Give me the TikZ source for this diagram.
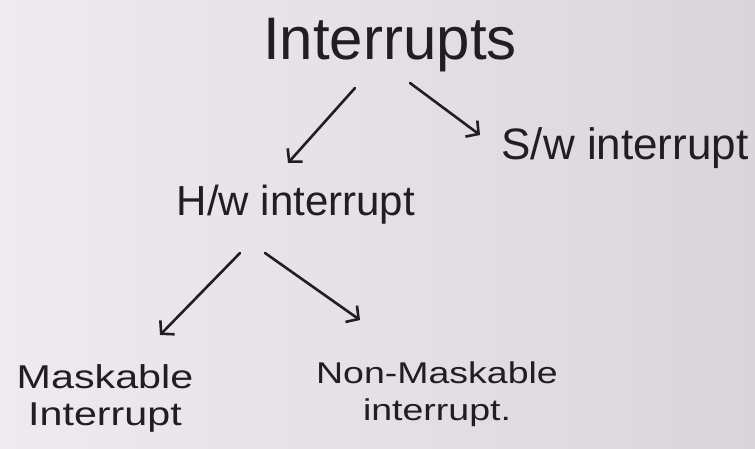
\documentclass[tikz,border=0pt]{standalone}
\usepackage{fontspec}
\setmainfont{Liberation Sans}
\newfontfamily\widehand[FakeStretch=1.25]{Liberation Sans}
\usetikzlibrary{arrows.meta}
\definecolor{ink}{RGB}{32,30,36}
\definecolor{paperL}{RGB}{238,235,238}
\definecolor{paperR}{RGB}{218,213,218}
\tikzset{
  hand/.style={text=ink, inner sep=0pt, align=center},
  arr/.style={draw=ink, line width=2.6pt, line cap=round,
    -{Straight Barb[length=9pt,width=20pt,line width=2.6pt]}},
}
\begin{document}
\begin{tikzpicture}[x=1pt,y=-1pt]
  % sheet of paper
  \shade[left color=paperL, right color=paperR] (0,0) rectangle (755,449);
  \useasboundingbox (0,0) rectangle (755,449);

  % labels
  \node[hand, font=\fontsize{60}{60}\selectfont] (int) at (390,45) {Interrupts};
  \node[hand, font=\fontsize{42}{42}\selectfont] (hw) at (296,205) {H/w interrupt};
  \node[hand, font=\fontsize{44}{44}\selectfont] (sw) at (625,148) {S/w interrupt};
  \node[hand, font=\widehand\fontsize{33}{37}\selectfont] (mask) at (105,398) {Maskable\\Interrupt};
  \node[hand, font=\widehand\fontsize{30}{37}\selectfont] (nonmask) at (437,394) {Non-Maskable\\interrupt.};

  % hierarchy arrows
  \draw[arr] ([shift={(-35,43)}]int.center) -- ([shift={(-8,-42)}]hw.center);
  \draw[arr] ([shift={(20,38)}]int.center) -- ([shift={(-145,-13)}]sw.center);
  \draw[arr] ([shift={(-56,48)}]hw.center) -- ([shift={(55,-63)}]mask.center);
  \draw[arr] ([shift={(-31,48)}]hw.center) -- ([shift={(-77,-74)}]nonmask.center);
\end{tikzpicture}
\end{document}
